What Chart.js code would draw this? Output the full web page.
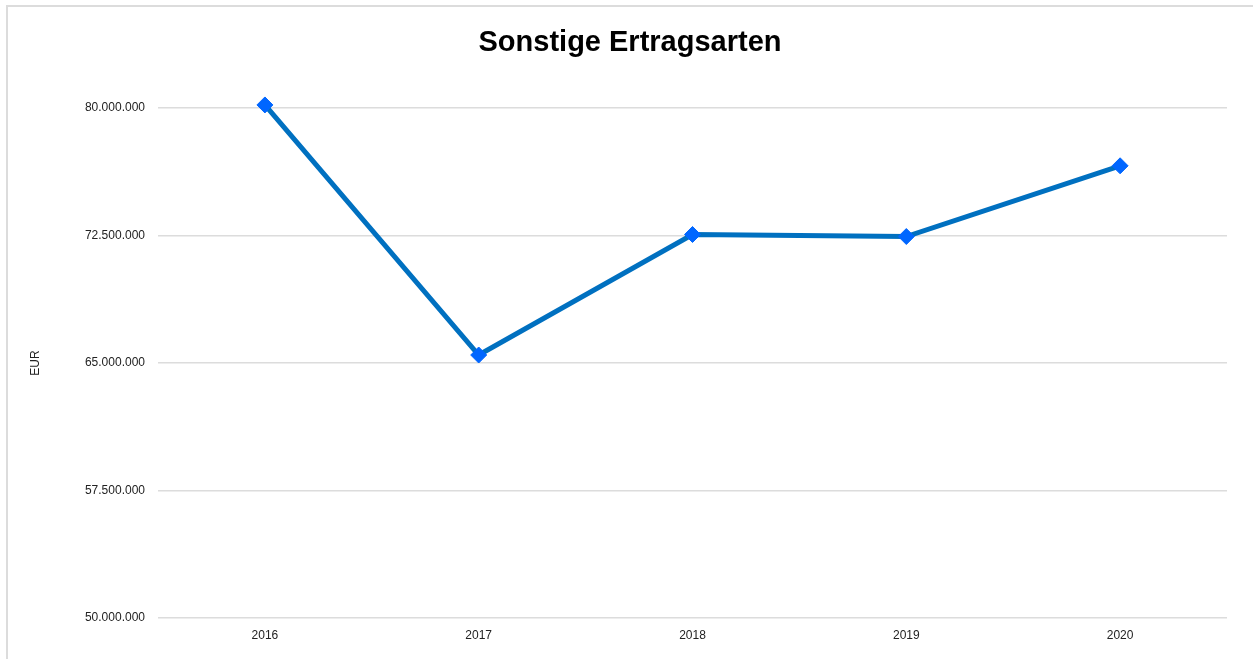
<!DOCTYPE html>
<html>
<head>
<meta charset="utf-8">
<script src="https://cdn.jsdelivr.net/npm/chart.js@4"></script>
<style>
    html, body { margin: 0; padding: 0; background: #fff; overflow: hidden; }
    #rahmen {
        position: absolute; left: 6px; top: 5px; width: 1300px; height: 700px;
        border: 2px solid #dcdcdc; box-sizing: border-box;
    }
    #box { position: absolute; left: 0; top: 0; width: 1253px; height: 659px; }
</style>
</head>
<body>
<div id="rahmen"></div>
<div id="box"><canvas id="grafico"></canvas></div>
<script>
const titulo = "Sonstige Ertragsarten";
const jahre = ["2016", "2017", "2018", "2019", "2020"];
const ertraege = [80180000, 65470000, 72560000, 72440000, 76600000];
const yTicks = [50000000, 57500000, 65000000, 72500000, 80000000];

function formatar(v) {
    return String(Math.round(v)).replace(/\B(?=(\d{3})+(?!\d))/g, ".");
}

// titulo desenhado a mao para centralizar na pagina inteira
const tituloPlugin = {
    id: "tituloPlugin",
    afterDraw(chart) {
        const ctx = chart.ctx;
        ctx.save();
        ctx.font = "bold 29px 'Liberation Sans', Arial, sans-serif";
        ctx.fillStyle = "#000";
        ctx.textAlign = "center";
        ctx.textBaseline = "alphabetic";
        ctx.fillText(titulo, 630, 51);
        ctx.restore();
    }
};

new Chart(document.getElementById("grafico"), {
    type: "line",
    data: {
        labels: jahre,
        datasets: [{
            data: ertraege,
            borderColor: "#0070c0",
            borderWidth: 5,
            pointStyle: "rectRot",
            pointRadius: 8,
            pointBackgroundColor: "#0066ff",
            pointBorderColor: "#0066ff",
            pointBorderWidth: 1,
            clip: false,
            tension: 0
        }]
    },
    options: {
        responsive: true,
        maintainAspectRatio: false,
        animation: false,
        layout: { padding: { left: 0, right: 26, top: 108, bottom: 0 } },
        plugins: {
            legend: { display: false },
            tooltip: { enabled: false },
            title: { display: false }
        },
        scales: {
            x: {
                offset: true,
                grid: { display: false, drawTicks: false },
                border: { display: false },
                ticks: {
                    color: "#222",
                    padding: 10,
                    font: { family: "Liberation Sans, Arial, sans-serif", size: 12 }
                },
                afterFit: s => { s.height = 41; }
            },
            y: {
                min: 50000000,
                max: 80000000,
                afterBuildTicks: s => { s.ticks = yTicks.map(v => ({ value: v })); },
                grid: { color: "#dcdcdc", lineWidth: 1.5, drawTicks: false },
                border: { display: false },
                ticks: {
                    color: "#222",
                    padding: 13,
                    font: { family: "Liberation Sans, Arial, sans-serif", size: 12 },
                    callback: v => formatar(v)
                },
                title: {
                    display: true,
                    text: "EUR",
                    color: "#222",
                    font: { family: "Liberation Sans, Arial, sans-serif", size: 12 },
                    padding: { top: 28, bottom: 0 }
                },
                afterFit: s => { s.width = 158; }
            }
        }
    },
    plugins: [tituloPlugin]
});
</script>
</body>
</html>
